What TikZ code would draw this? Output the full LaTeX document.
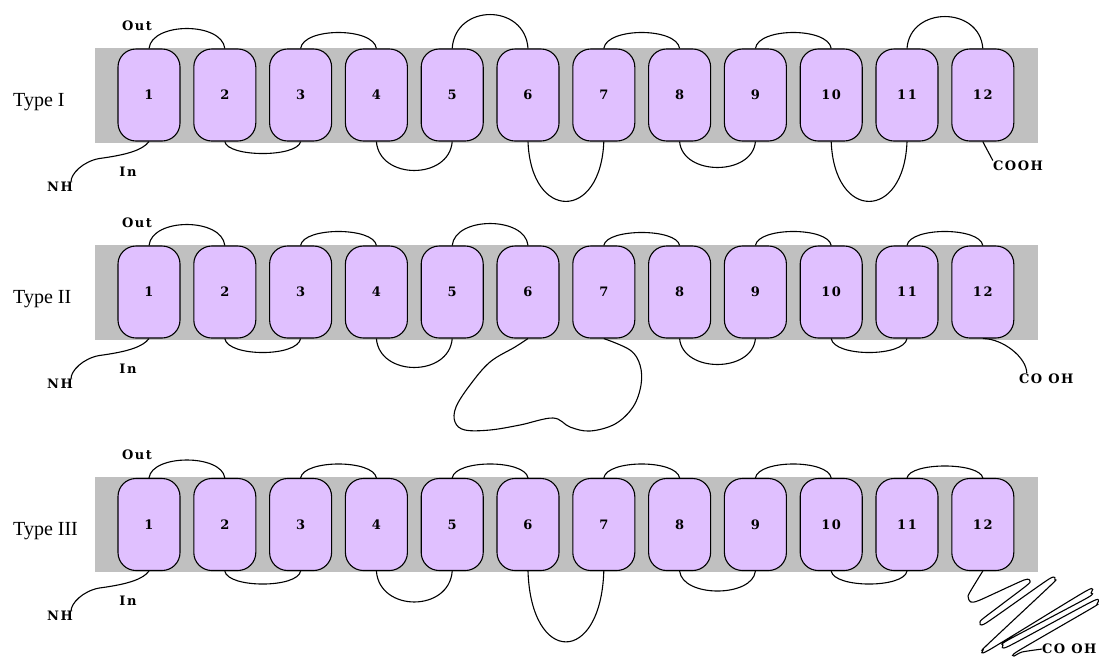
\documentclass[tikz,border=0pt]{standalone}
\usepackage{fontspec}
\setmainfont{Liberation Serif}
\newfontfamily\pixfont[LetterSpace=12]{DejaVu Serif}
\usetikzlibrary{positioning}
\definecolor{MemGray}{HTML}{C0C0C0}
\definecolor{HelixLilac}{HTML}{E0C0FF}
\tikzset{
  % Membrane band
  MB/.style={rectangle,fill=MemGray,draw=none,inner sep=0pt,
             minimum width=943pt,minimum height=95pt},
  % Helix capsule
  TM/.style={rectangle,rounded corners=18pt,fill=HelixLilac,draw=black,
             line width=1.1pt,inner sep=0pt,
             minimum width=62pt,minimum height=92pt,
             font=\pixfont\bfseries\fontsize{13}{13}\selectfont},
  % Loop line
  lp/.style={line width=1.1pt,black},
  % Label styles
  TY/.style={font=\fontsize{20}{24}\selectfont,anchor=base west,inner sep=0pt},
  LB/.style={font=\pixfont\bfseries\fontsize{13}{13}\selectfont,inner sep=0pt}
}
\begin{document}
\begin{tikzpicture}[x=1pt,y=-1pt,node distance=12.7pt]
  \useasboundingbox (0,0) rectangle (1099,657);
  % Membranes, helices, N-terminus
  \foreach \rw/\y/\tp in {a/95/I,b/292/II,c/524.5/III}{
    \node[MB] (mem\rw) at (566.5,\y) {};
    \node[TY] (type\rw) at (13,\y+11) {Type \tp};
    \node[TM] (\rw1) at (149,\y) {1};
    \foreach \i [remember=\i as \j (initially 1)] in {2,...,12}
      \node[TM,right=of \rw\j] (\rw\i) {\i};
    \node[LB] (out\rw) at ([xshift=-12pt,yshift=23pt]\rw1.north) {Out};
    \node[LB] (in\rw)  at ([xshift=-21pt,yshift=-30pt]\rw1.south) {In};
    \node[LB] (nh\rw)  at ([xshift=-89pt,yshift=-45pt]\rw1.south) {NH};
    \draw[lp] (\rw1.south) .. controls +(-6,8) and +(30,-4) .. ++(-50,17)
      .. controls +(-16,3) and +(0,-8) .. ([xshift=11pt]nh\rw.north);
  }
  % Type I loops
  \foreach \i/\j/\h in {1/2/20,3/4/16,5/6/34,7/8/16,9/10/16,11/12/32}
    \draw[lp] (a\i.north) .. controls +(3,-1.33*\h) and +(-3,-1.33*\h) .. (a\j.north);
  \foreach \i/\j/\h in {2/3/12,4/5/29,6/7/60,8/9/26,10/11/60}
    \draw[lp] (a\i.south) .. controls +(3,1.33*\h) and +(-3,1.33*\h) .. (a\j.south);
  \node[LB,anchor=north west] (coa) at ([xshift=10pt,yshift=-19pt]a12.south) {COOH};
  \draw[lp] (a12.south) .. controls +(3,6) and +(-2,-4) .. (coa.north west);
  % Type II loops
  \foreach \i/\j/\h in {1/2/21,3/4/14,5/6/22,7/8/13,9/10/14,11/12/14}
    \draw[lp] (b\i.north) .. controls +(3,-1.33*\h) and +(-3,-1.33*\h) .. (b\j.north);
  \foreach \i/\j/\h in {2/3/14,4/5/29,8/9/26,10/11/14}
    \draw[lp] (b\i.south) .. controls +(3,1.33*\h) and +(-3,1.33*\h) .. (b\j.south);
  \draw[lp] plot[smooth,tension=0.6] coordinates {(b6.south) (515,347) (490,362)
    (470,385) (456,407) (455,422) (465,430) (490,430) (520,425) (553,418)
    (570,427) (590,431) (615,424) (633,407) (641,385) (640,365) (630,350) (b7.south)};
  \node[LB,anchor=west] (cob) at ([xshift=36pt,yshift=-40pt]b12.south) {CO OH};
  \draw[lp] (b12.south) .. controls +(20,0) and +(0,-16) .. ([xshift=8pt]cob.north west);
  % Type III loops
  \foreach \i/\j/\h in {1/2/18,3/4/14,5/6/14,7/8/14,9/10/14,11/12/12}
    \draw[lp] (c\i.north) .. controls +(3,-1.33*\h) and +(-3,-1.33*\h) .. (c\j.north);
  \foreach \i/\j/\h in {2/3/13,4/5/31,6/7/71,8/9/20,10/11/13}
    \draw[lp] (c\i.south) .. controls +(3,1.33*\h) and +(-3,1.33*\h) .. (c\j.south);
  \node[LB,anchor=west] (coc) at ([xshift=59pt,yshift=-78pt]c12.south) {CO OH};
  \draw[lp] plot[smooth,tension=0.4] coordinates {(c12.south) (976,582) (968,596)
    (971,602) (980,600) (1024,580) (1030,581) (1026,586) (985,617) (980,622)
    (986,623) (1049,579) (1055,580) (1051,585) (987,645) (983,650) (989,650)
    (1086,591) (1091,593) (1087,598) (1008,640) (1003,645) (1009,646)
    (1093,601) (1097,604) (1092,608) (1018,651) (1014,656) (1022,652) (coc.west)};
\end{tikzpicture}
\end{document}
